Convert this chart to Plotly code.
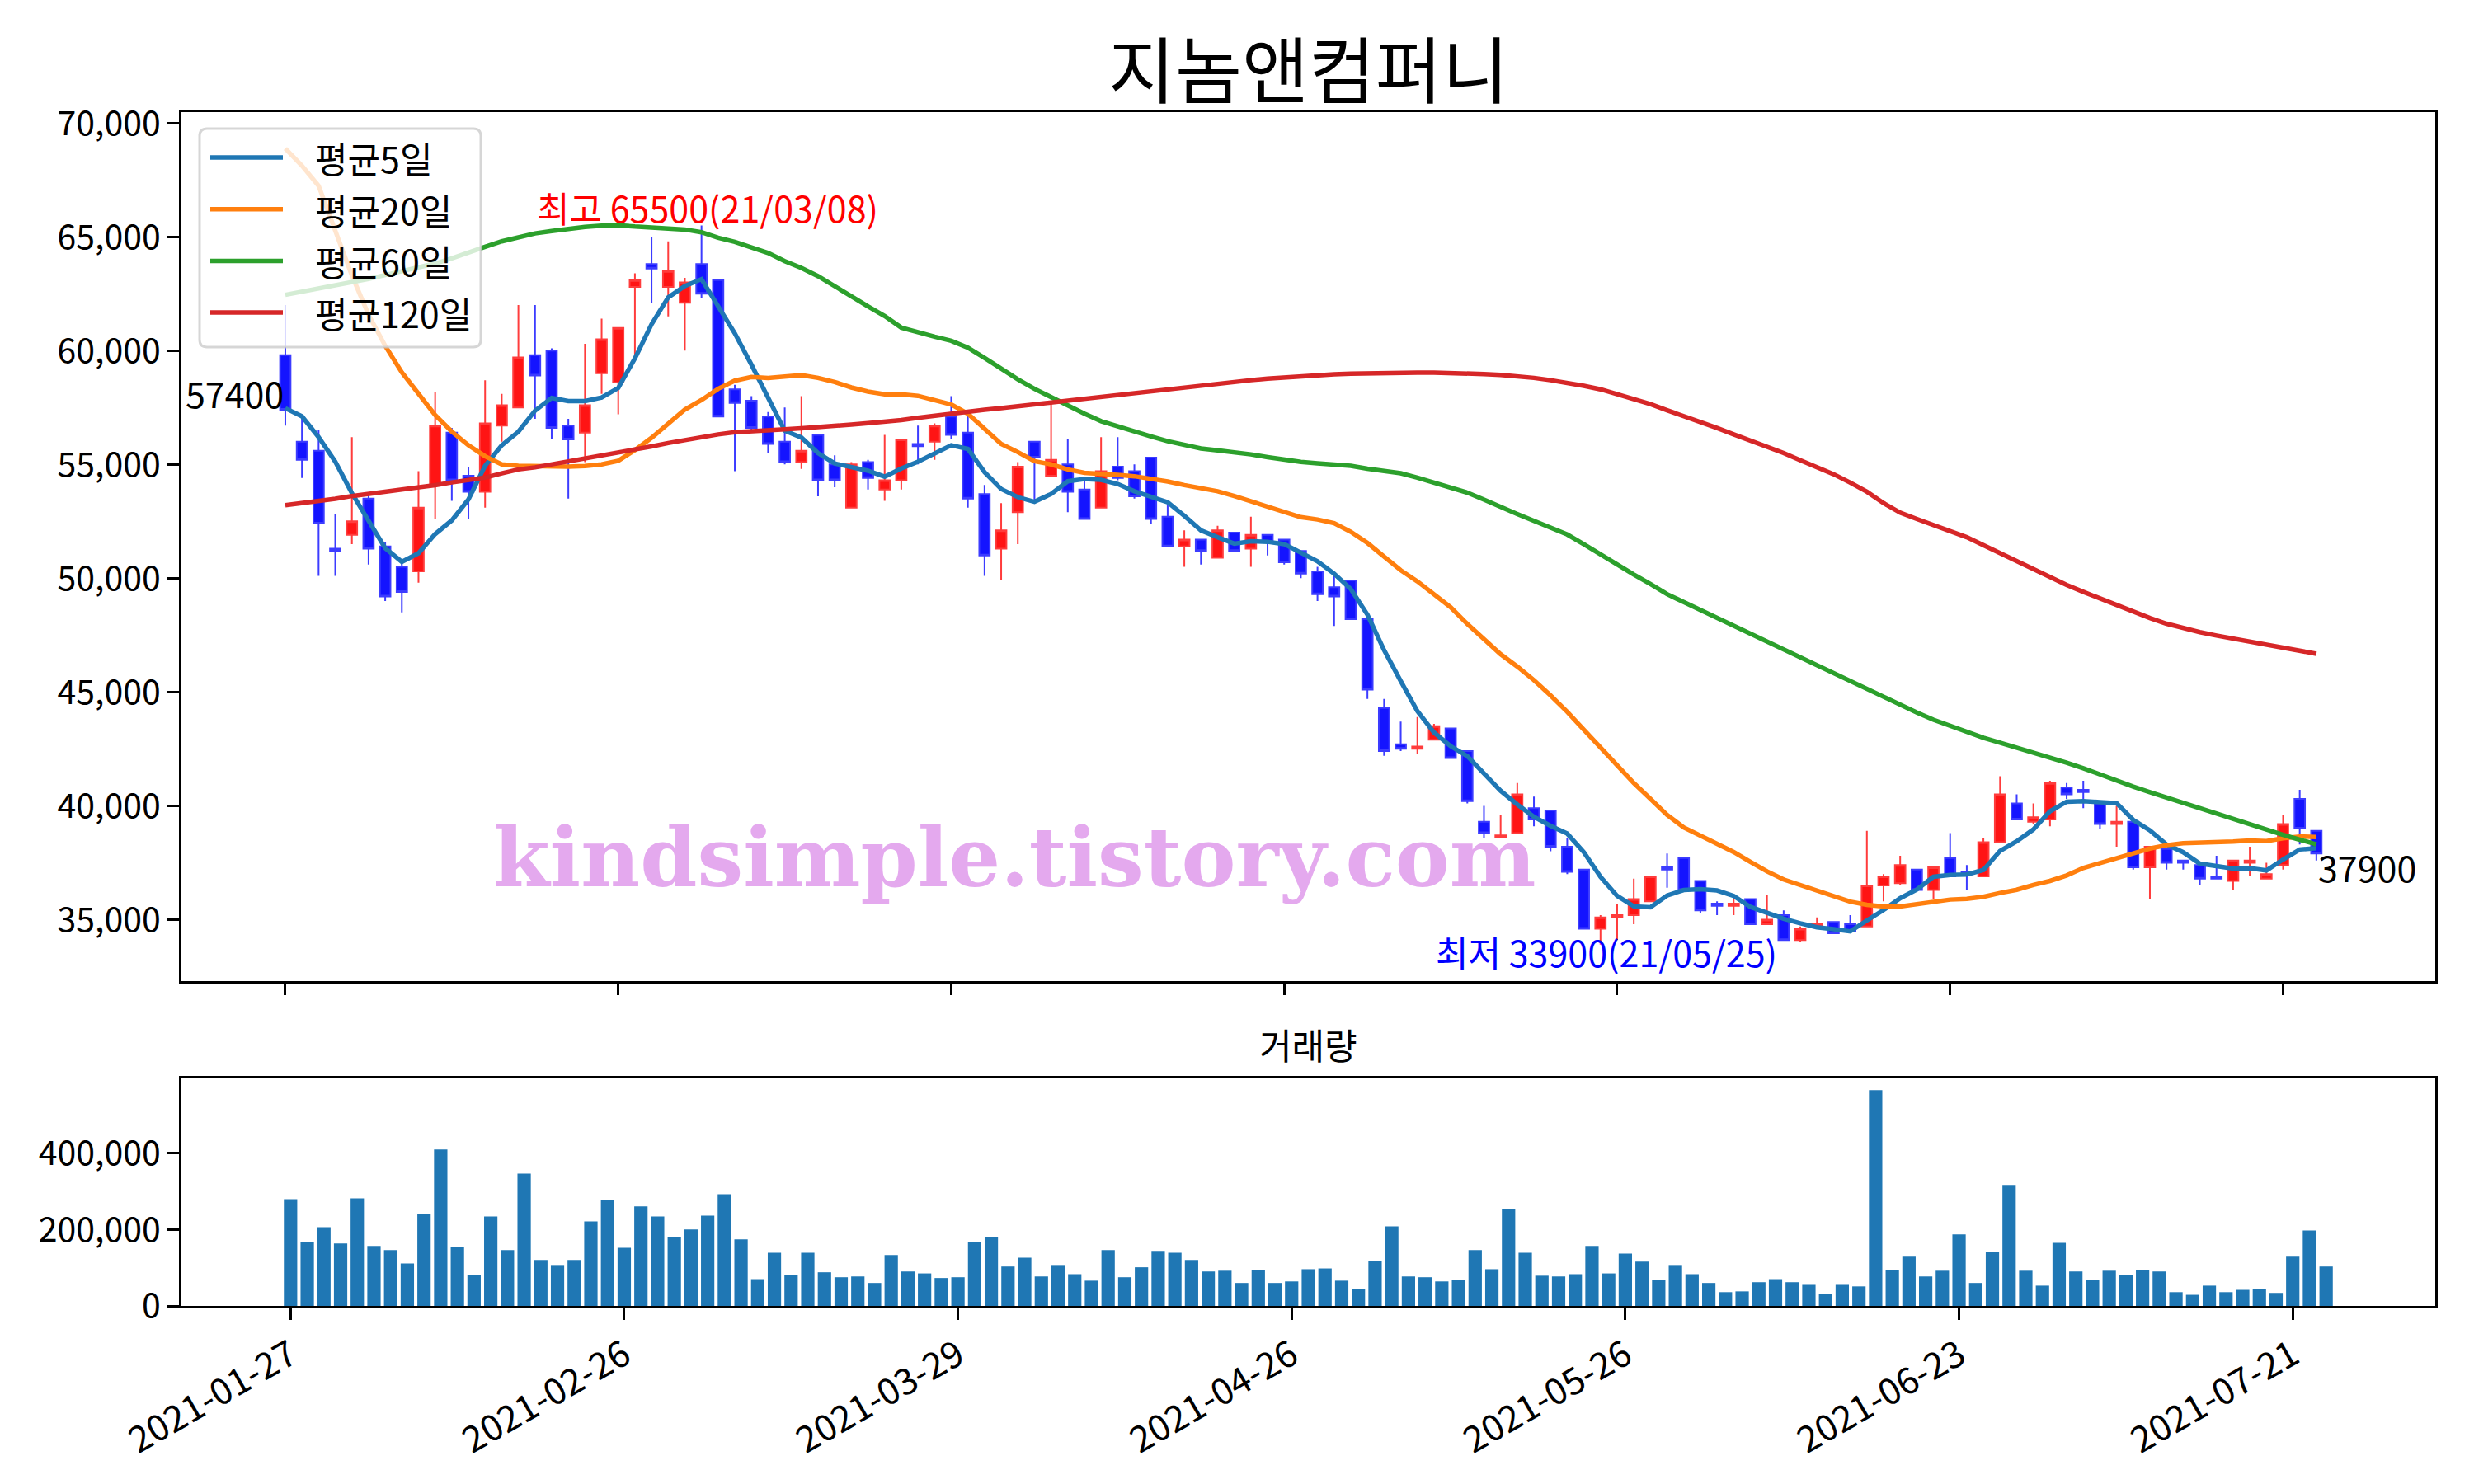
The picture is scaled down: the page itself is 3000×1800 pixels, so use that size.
import pandas as pd
import plotly.graph_objects as go

# ---------------- data ----------------
holidays = ["2021-02-11", "2021-02-12", "2021-03-01", "2021-05-05", "2021-05-19"]
dates = [d.strftime("%Y-%m-%d") for d in pd.bdate_range("2021-01-27", "2021-07-23")
         if d.strftime("%Y-%m-%d") not in holidays]

open_ = [59800, 56000, 55600, 51300, 51900, 53500, 51400, 50500, 50300, 54100,
         56400, 54500, 53800, 56700, 57500, 59800, 60000, 56700, 56400, 59000,
         58600, 62800, 63800, 62800, 62100, 63800, 63100, 58300, 57800, 57100,
         56000, 55100, 56300, 55000, 53100, 55100, 53900, 54300, 55900, 56000,
         57100, 56400, 53700, 51300, 52900, 56000, 54500, 55000, 53900, 53100,
         54900, 54700, 55300, 52700, 51400, 51700, 50900, 52000, 51300, 51900,
         51700, 51200, 50300, 49600, 49900, 48200, 44300, 42700, 42500, 42900,
         43400, 42400, 39300, 38600, 38800, 39900, 39800, 38200, 37200, 34600,
         35100, 35200, 35800, 37300, 37700, 36700, 35700, 35600, 35900, 34800,
         35200, 34100, 34700, 34900, 34800, 34700, 36500, 36600, 37200, 36300,
         37700, 37100, 36900, 38400, 40100, 39300, 39400, 40800, 40700, 40100,
         39200, 39300, 37300, 38100, 37600, 37400, 36900, 36700, 37500, 36800,
         37400, 40300, 38900]
high = [62000, 57000, 56500, 52800, 56200, 53700, 51600, 50700, 54700, 58200,
        56600, 54900, 58700, 58100, 62000, 62000, 60100, 57000, 60300, 61400,
        61000, 63400, 65000, 64800, 63200, 65500, 63100, 58500, 58000, 57300,
        57500, 58000, 56300, 55400, 55100, 55200, 56300, 56100, 56700, 56800,
        58000, 57300, 54100, 53300, 55100, 56000, 57700, 56100, 54300, 56200,
        56200, 55000, 55300, 53300, 52100, 51700, 52300, 52000, 52700, 51900,
        51700, 51200, 50500, 50100, 49900, 48300, 44700, 43700, 43900, 43600,
        43400, 42400, 40000, 39600, 41000, 40400, 39800, 38600, 37200, 35200,
        35700, 36800, 36900, 37900, 37700, 36700, 35800, 35900, 35900, 36100,
        35400, 34700, 35100, 34900, 35200, 38900, 37000, 37800, 37200, 37300,
        38800, 37400, 38600, 41300, 40500, 40100, 41100, 41000, 41100, 40100,
        40000, 39300, 38200, 38100, 37600, 37400, 37800, 37600, 38200, 37500,
        39600, 40700, 38900]
low = [56700, 54400, 50100, 50100, 51500, 50600, 49000, 48500, 49800, 52600,
       53400, 52600, 53100, 56000, 57500, 57000, 56100, 53500, 55100, 58100,
       57200, 59700, 62100, 61500, 60000, 62300, 57100, 54700, 56500, 55500,
       55000, 54800, 53600, 54000, 53100, 53900, 53400, 53900, 55000, 55200,
       56100, 53100, 50100, 49900, 51500, 53400, 54500, 52900, 52600, 53100,
       54300, 53500, 52400, 51400, 50500, 50600, 50900, 51200, 50500, 51000,
       50600, 50000, 49000, 47900, 48200, 44700, 42200, 42400, 42300, 42900,
       42100, 40100, 38600, 38600, 38800, 39100, 38000, 37000, 34600, 33900,
       34100, 34800, 35800, 36400, 36300, 35300, 35200, 35200, 34800, 34800,
       34100, 34000, 34600, 34400, 34500, 34700, 35800, 36500, 36300, 35900,
       36900, 36300, 36900, 38400, 39400, 39200, 39100, 40300, 39900, 39000,
       38200, 37200, 35900, 37200, 37200, 36500, 36800, 36300, 36900, 36800,
       37200, 38300, 37600]
close = [57400, 55200, 52400, 51200, 52500, 51300, 49200, 49400, 53100, 56700,
         54300, 53800, 56800, 57600, 59700, 58900, 56600, 56100, 57600, 60500,
         61000, 63100, 63600, 63500, 63000, 62500, 57100, 57700, 56600, 55900,
         55100, 55600, 54300, 54300, 55000, 54400, 54300, 56100, 55800, 56700,
         56300, 53500, 51000, 52100, 54900, 55300, 55200, 53800, 52600, 54700,
         54400, 53600, 52600, 51400, 51700, 51200, 52100, 51200, 51900, 51600,
         50700, 50200, 49300, 49200, 48200, 45100, 42400, 42500, 42600, 43500,
         42100, 40200, 38800, 38700, 40500, 39400, 38200, 37100, 34600, 35100,
         35200, 35900, 36900, 37200, 36300, 35400, 35600, 35700, 34800, 35000,
         34100, 34600, 34800, 34400, 34500, 36500, 36900, 37400, 36300, 37300,
         36900, 37000, 38400, 40500, 39400, 39500, 41000, 40500, 40600, 39200,
         39300, 37300, 38200, 37500, 37500, 36800, 36800, 37600, 37600, 37000,
         39200, 39000, 37900]
volume = [279000, 167000, 206000, 163000, 281000, 157000, 146000, 111000, 241000, 409000,
          154000, 81000, 234000, 146000, 346000, 120000, 107000, 120000, 221000, 277000,
          152000, 260000, 234000, 180000, 200000, 236000, 292000, 174000, 70000, 139000,
          81000, 139000, 88000, 75000, 77000, 60000, 133000, 90000, 85000, 73000,
          75000, 167000, 180000, 103000, 126000, 77000, 107000, 83000, 66000, 146000,
          75000, 101000, 144000, 139000, 120000, 90000, 92000, 60000, 94000, 60000,
          64000, 96000, 98000, 66000, 45000, 118000, 208000, 77000, 75000, 64000,
          67000, 146000, 96000, 253000, 139000, 79000, 77000, 83000, 157000, 85000,
          137000, 116000, 68000, 107000, 83000, 60000, 36000, 38000, 62000, 70000,
          62000, 55000, 32000, 55000, 51000, 564000, 94000, 129000, 77000, 92000,
          187000, 60000, 141000, 316000, 92000, 53000, 165000, 90000, 68000, 92000,
          81000, 94000, 90000, 36000, 29000, 53000, 36000, 42000, 45000, 34000,
          129000, 197000, 103000]
ma5 = [57470, 57110, 56200, 55120, 53740, 52520, 51320, 50720, 51100, 51940,
       52540, 53460, 54940, 55840, 56440, 57360, 57920, 57780, 57780, 57940,
       58360, 59660, 61160, 62340, 62840, 63140, 61940, 60760, 59380, 57960,
       56480, 56180, 55500, 55040, 54860, 54720, 54460, 54820, 55120, 55460,
       55840, 55680, 54660, 53920, 53560, 53360, 53700, 54260, 54360, 54320,
       54140, 53820, 53580, 53340, 52740, 52100, 51800, 51520, 51620, 51600,
       51500, 51120, 50740, 50200, 49520, 48400, 46840, 45480, 44160, 43220,
       42620, 42180, 41440, 40660, 40060, 39520, 39120, 38780, 37960, 36880,
       36040, 35580, 35540, 36060, 36300, 36340, 36280, 36040, 35560, 35300,
       35040, 34840, 34660, 34580, 34480, 34960, 35420, 35940, 36320, 36880,
       36960, 36980, 37180, 38020, 38440, 38960, 39760, 40180, 40200, 40160,
       40120, 39380, 38920, 38300, 37960, 37460, 37360, 37240, 37260, 37160,
       37640, 38080, 38140]
ma20 = [68880, 68120, 67240, 65300, 63300, 61570, 60210, 59040, 58140, 57170,
        56440, 55840, 55360, 55000, 54940, 54930, 54900, 54900, 54930, 55000,
        55160, 55630, 56170, 56810, 57410, 57830, 58320, 58680, 58840, 58800,
        58840, 58920, 58800, 58620, 58380, 58200, 58080, 58080, 58010, 57800,
        57630, 57230, 56570, 55900, 55540, 55140, 55000, 54780, 54630, 54600,
        54540, 54480, 54370, 54250, 54090, 53940, 53820, 53610, 53370, 53120,
        52880, 52680, 52580, 52420, 52040, 51550, 50950, 50350, 49860, 49320,
        48720, 47990, 47330, 46660, 46120, 45520, 44850, 44130, 43340, 42560,
        41800, 41000, 40300, 39600, 39050, 38690, 38330, 37970, 37540, 37120,
        36760, 36520, 36280, 36030, 35790, 35650, 35580, 35580, 35670, 35790,
        35880, 35910, 36000, 36170, 36310, 36520, 36700, 36940, 37270, 37480,
        37720, 37910, 38120, 38270, 38360, 38370, 38380, 38430, 38470, 38450,
        38570, 38650, 38630]
ma60 = [62450, 62580, 62720, 62860, 63000, 63150, 63320, 63490, 63650, 63830,
        64050, 64280, 64560, 64800, 65000, 65150, 65250, 65350, 65430, 65490,
        65510, 65450, 65420, 65380, 65320, 65200, 64960, 64780, 64560, 64290,
        63930, 63630, 63270, 62850, 62390, 61940, 61520, 61010, 60790, 60610,
        60430, 60130, 59680, 59190, 58740, 58320, 57950, 57590, 57230, 56900,
        56660, 56470, 56230, 56020, 55840, 55700, 55620, 55540, 55440, 55320,
        55210, 55110, 55050, 55010, 54940, 54810, 54690, 54610, 54420, 54210,
        54000, 53760, 53450, 53120, 52820, 52520, 52240, 51920, 51490, 51030,
        50590, 50160, 49740, 49300, 48950, 48600, 48250, 47900, 47550, 47200,
        46850, 46500, 46150, 45800, 45450, 45100, 44750, 44400, 44100, 43780,
        43520, 43220, 42990, 42770, 42560, 42310, 42100, 41890, 41650, 41370,
        41110, 40840, 40600, 40360, 40120, 39900, 39660, 39420, 39150, 38910,
        38720, 38510, 38310]
ma120 = [53210, 53290, 53370, 53490, 53610, 53700, 53790, 53870, 53970, 54090,
         54210, 54300, 54420, 54610, 54780, 54870, 55000, 55090, 55240, 55360,
         55500, 55650, 55790, 55940, 56080, 56200, 56320, 56410, 56470, 56500,
         56540, 56590, 56630, 56690, 56750, 56810, 56870, 56950, 57050, 57150,
         57250, 57330, 57400, 57470, 57555, 57630, 57710, 57800, 57870, 57950,
         58040, 58130, 58230, 58320, 58380, 58460, 58530, 58620, 58700, 58770,
         58830, 58880, 58920, 58960, 58990, 59010, 59020, 59030, 59030, 59030,
         59020, 59000, 58970, 58930, 58890, 58800, 58700, 58590, 58450, 58300,
         58100, 57900, 57650, 57380, 57130, 56880, 56600, 56320, 56050, 55780,
         55500, 55180, 54880, 54570, 54200, 53800, 53300, 52880, 52600, 52350,
         52100, 51800, 51450, 51100, 50750, 50380, 50050, 49700, 49400, 49100,
         48800, 48500, 48250, 48000, 47800, 47630, 47480, 47350, 47230, 47100,
         46950, 46820, 46680]
ma_names = ["평균5일", "평균20일", "평균60일", "평균120일"]
ma_colors = ["#1f77b4", "#ff7f0e", "#2ca02c", "#d62728"]
price_ticks = [35000, 40000, 45000, 50000, 55000, 60000, 65000, 70000]
vol_ticks = [0, 200000, 400000]
date_tick_idx = [0, 20, 40, 60, 80, 100, 120]

idx = list(range(len(dates)))

# ---------------- layout geometry (page pixels) ----------------
W, H = 3000, 1800
OFF = 8                      # default page margin around the plot div
L, R, T, B = 220, 2953, 136, 1584
PRICE_BOTTOM = 1190
VOL_TOP = 1308


def px_x(px):
    return (px - L) / (R - L)


def px_y(py):
    return (B - py) / (B - T)


FONT = "Noto Sans CJK KR, Noto Sans, sans-serif"
FS = 43
TFS = 41

fig = go.Figure()

fig.add_trace(go.Candlestick(
    x=idx, open=open_, high=high, low=low, close=close,
    increasing=dict(line=dict(color="#ff3c3c", width=2), fillcolor="#ff1414"),
    decreasing=dict(line=dict(color="#3c3cff", width=2), fillcolor="#1414ff"),
    whiskerwidth=0, showlegend=False, xaxis="x", yaxis="y", hoverinfo="skip"))

for name, col, vals in zip(ma_names, ma_colors, [ma5, ma20, ma60, ma120]):
    fig.add_trace(go.Scatter(x=idx, y=vals, mode="lines", name=name,
                             line=dict(color=col, width=5.5),
                             showlegend=False, xaxis="x", yaxis="y"))

fig.add_trace(go.Bar(x=idx, y=volume, width=0.8, marker=dict(color="#1f77b4", line=dict(width=0)),
                     showlegend=False, xaxis="x2", yaxis="y2"))

axis_common = dict(showline=True, linecolor="black", linewidth=3, mirror=True,
                   ticks="outside", ticklen=14, tickwidth=3, tickcolor="black",
                   showgrid=False, zeroline=False,
                   tickfont=dict(family=FONT, size=TFS, color="black"))

fig.update_layout(
    width=W, height=H,
    margin=dict(l=L - OFF, r=W - R + OFF, t=T - OFF, b=H - B + OFF),
    paper_bgcolor="white", plot_bgcolor="white",
    showlegend=False,
    boxgap=0.37, boxgroupgap=0,
    font=dict(family=FONT, size=FS, color="black"),
    xaxis=dict(domain=[0, 1], anchor="y", range=[-6.24, 129.14],
               tickvals=date_tick_idx, showticklabels=False,
               rangeslider=dict(visible=False), **axis_common),
    yaxis=dict(domain=[px_y(PRICE_BOTTOM), 1], anchor="x", range=[32298, 70478],
               tickvals=price_ticks, tickformat=",d", **axis_common),
    xaxis2=dict(domain=[0, 1], anchor="y2", range=[-6.54, 128.54],
                tickvals=date_tick_idx, ticktext=[dates[i] for i in date_tick_idx],
                tickangle=-30, **axis_common),
    yaxis2=dict(domain=[0, px_y(VOL_TOP)], anchor="x2", range=[0, 594800],
                tickvals=vol_ticks, tickformat=",d", **axis_common),
)
fig.update_xaxes(tickfont=dict(size=44), selector=dict(anchor="y2"))

ann = []
# title
ann.append(dict(text="지놈앤컴퍼니", xref="paper", yref="paper", x=0.5, y=px_y(80),
                xanchor="center", yanchor="middle", showarrow=False,
                font=dict(family=FONT, size=88, color="black")))
# volume subplot title
ann.append(dict(text="거래량", xref="paper", yref="paper", x=0.5, y=px_y(1266),
                xanchor="center", yanchor="middle", showarrow=False,
                font=dict(family=FONT, size=FS, color="black")))
# max / min annotations
hi_i = max(idx, key=lambda i: high[i])
lo_i = min(idx, key=lambda i: low[i])
ann.append(dict(text=f"최고 {high[hi_i]}({dates[hi_i][2:].replace('-', '/')})",
                xref="x", yref="y", x=hi_i - 10, y=high[hi_i], xanchor="left", yanchor="bottom",
                yshift=-11, showarrow=False, font=dict(family=FONT, size=FS, color="red")))
ann.append(dict(text=f"최저 {low[lo_i]}({dates[lo_i][2:].replace('-', '/')})",
                xref="x", yref="y", x=lo_i - 10, y=low[lo_i], xanchor="left", yanchor="top",
                yshift=25, showarrow=False, font=dict(family=FONT, size=FS, color="blue")))
# first / last close
ann.append(dict(text=str(close[0]), xref="x", yref="y", x=idx[0], y=close[0],
                xanchor="right", yanchor="bottom", yshift=-12, showarrow=False,
                font=dict(family=FONT, size=FS, color="black")))
ann.append(dict(text=str(close[-1]), xref="x", yref="y", x=idx[-1], y=close[-1],
                xanchor="left", yanchor="top", yshift=17, showarrow=False,
                font=dict(family=FONT, size=FS, color="black")))
# watermark
ann.append(dict(text="kindsimple.tistory.com", xref="paper", yref="paper",
                x=px_x(1230), y=px_y(1040), xanchor="center", yanchor="middle", showarrow=False,
                font=dict(family="DejaVu Serif", size=99, color="#e4a9ee", weight="bold")))

# custom legend (matplotlib style)
lx0, lx1, ly0, ly1, rad = 242, 583, 156, 421, 9
rx, ry = rad / (R - L), rad / (B - T)
X0, X1, Y0, Y1 = px_x(lx0), px_x(lx1), px_y(ly1), px_y(ly0)
path = (f"M {X0+rx},{Y0} L {X1-rx},{Y0} Q {X1},{Y0} {X1},{Y0+ry} L {X1},{Y1-ry} "
        f"Q {X1},{Y1} {X1-rx},{Y1} L {X0+rx},{Y1} Q {X0},{Y1} {X0},{Y1-ry} "
        f"L {X0},{Y0+ry} Q {X0},{Y0} {X0+rx},{Y0} Z")
shapes = [dict(type="path", path=path, xref="paper", yref="paper", layer="above",
               fillcolor="rgba(255,255,255,0.8)", line=dict(color="rgba(204,204,204,0.8)", width=3))]
for k, (name, col) in enumerate(zip(ma_names, ma_colors)):
    yy = 191 + 62.7 * k
    shapes.append(dict(type="line", xref="paper", yref="paper", layer="above",
                       x0=px_x(255), x1=px_x(343), y0=px_y(yy), y1=px_y(yy),
                       line=dict(color=col, width=5.5)))
    ann.append(dict(text=name, xref="paper", yref="paper", x=px_x(380), y=px_y(yy),
                    xanchor="left", yanchor="middle", showarrow=False,
                    font=dict(family=FONT, size=FS, color="black")))

fig.update_layout(annotations=ann, shapes=shapes)
fig.write_html("out.html")
